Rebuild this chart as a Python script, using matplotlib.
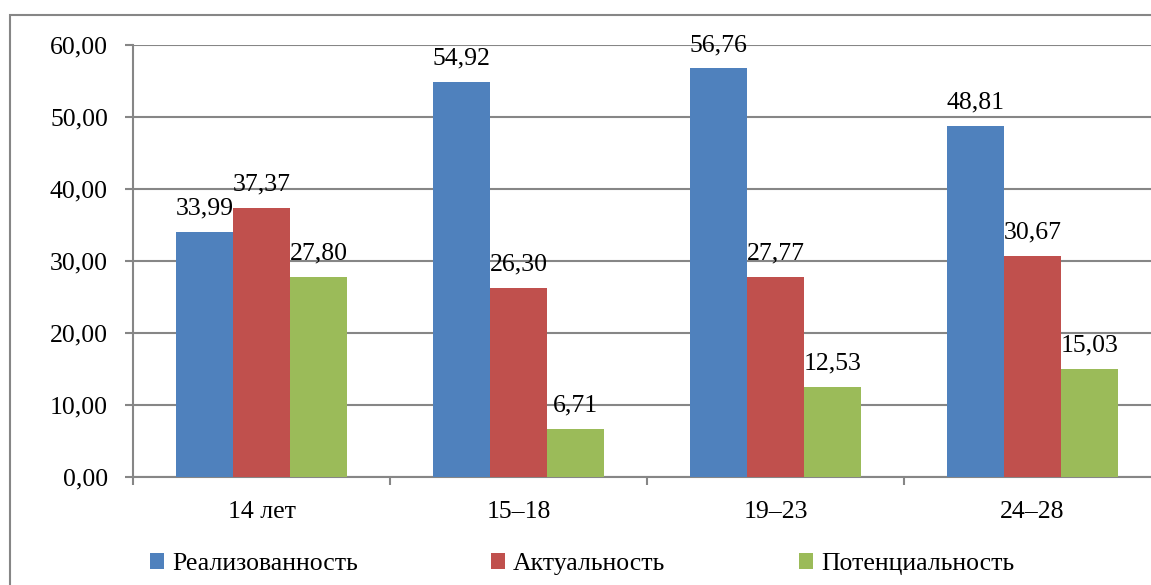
import numpy as np
import matplotlib.pyplot as plt
from matplotlib.patches import Rectangle
from matplotlib.ticker import FixedLocator, FuncFormatter

plt.rcParams['font.family'] = ['Liberation Serif', 'DejaVu Serif']

categories = ['14 лет', '15–18', '19–23', '24–28']
series_names = ['Реализованность', 'Актуальность', 'Потенциальность']
realized = [33.99, 54.92, 56.76, 48.81]
actual = [37.37, 26.30, 27.77, 30.67]
potential = [27.80, 6.71, 12.53, 15.03]
colors = ['#4F81BD', '#C0504D', '#9BBB59']

grid_color = '#868686'
fs = 18.5

fig = plt.figure(figsize=(11.51, 5.85), dpi=100)
# plot area runs past the right edge, like in the original screenshot
ax = fig.add_axes([133 / 1151, 108 / 585, 1028 / 1151, 432 / 585])

# outer chart frame, cut off at right and bottom
fig.patches.append(Rectangle((10 / 1151, -0.2), 1.2, (585 - 15) / 585 + 0.2,
                             transform=fig.transFigure, fill=False,
                             edgecolor=grid_color, linewidth=1.5, clip_on=False))

x = np.arange(len(categories))
width = 57 / 257
for i, (vals, name) in enumerate(zip([realized, actual, potential], series_names)):
    pos = x + (i - 1) * width
    ax.bar(pos, vals, width=width, color=colors[i], label=name, zorder=3)
    for px, v in zip(pos, vals):
        ax.annotate(f'{v:.2f}'.replace('.', ','), (px, v), xytext=(0, 12.5),
                    textcoords='offset points', ha='center', va='baseline',
                    fontsize=fs)

ax.set_xlim(-0.5, 3.5)
ax.set_ylim(0, 60)
ax.set_yticks(np.arange(0, 61, 10))
ax.yaxis.set_major_formatter(FuncFormatter(lambda v, p: f'{v:.2f}'.replace('.', ',')))
ax.yaxis.grid(True, color=grid_color, linewidth=1.5, zorder=0)
ax.tick_params(axis='y', length=6, width=1.5, color=grid_color, pad=12, labelsize=fs)

ax.set_xticks(x)
ax.set_xticklabels(categories)
ax.xaxis.set_minor_locator(FixedLocator(np.arange(-0.5, 4, 1)))
ax.tick_params(axis='x', which='major', length=0, pad=17, labelsize=fs)
ax.tick_params(axis='x', which='minor', length=6, width=1.5, color=grid_color)

for s in ['top', 'right']:
    ax.spines[s].set_visible(False)
for s in ['left', 'bottom']:
    ax.spines[s].set_color(grid_color)
    ax.spines[s].set_linewidth(1.5)

handles, labels = ax.get_legend_handles_labels()
fig.legend(handles, labels, loc='center', bbox_to_anchor=(582 / 1151, 21 / 585),
           ncol=3, frameon=False, fontsize=fs, handlelength=0.55, handleheight=0.55,
           handletextpad=0.3, columnspacing=5.2)

fig.savefig('out.png', dpi=100)
